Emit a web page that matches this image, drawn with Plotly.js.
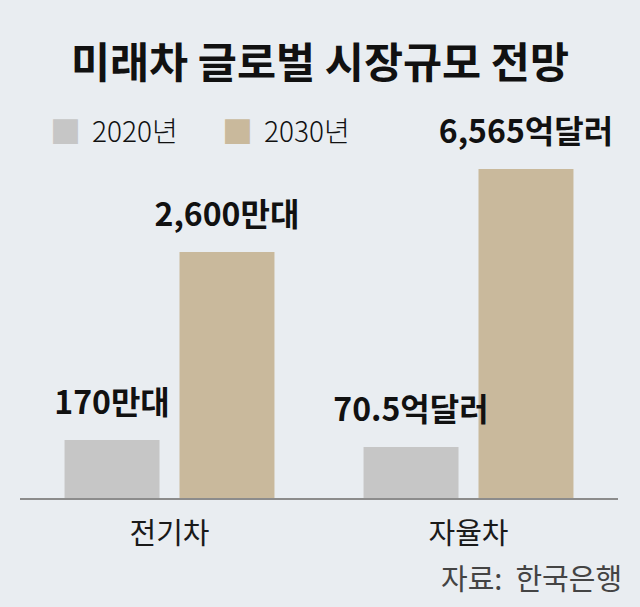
<!DOCTYPE html>
<html>
<head>
<meta charset="utf-8">
<script src="https://cdn.plot.ly/plotly-3.0.1.min.js"></script>
<style>
  html, body { margin: 0; padding: 0; background: #e9edf1; }
  #chart { width: 640px; height: 607px; }
</style>
</head>
<body>
<div id="chart"></div>
<script>
// ---- data ----
const titleText = "미래차 글로벌 시장규모 전망";
const sourceText = "자료:&nbsp; 한국은행";
const categories = ["전기차", "자율차"];
const seriesNames = ["2020년", "2030년"];
const units = ["만대", "억달러"];
const values2020 = [170, 70.5];
const values2030 = [2600, 6565];
// bar heights as drawn in the source graphic (illustrative, not to scale)
const barHeights2020 = [58, 51];
const barHeights2030 = [246, 329];

// ---- style ----
const colors = ["#c6c6c6", "#c9b99c"];
const bg = "#e9edf1";
const kr = "'Noto Sans CJK KR', 'Noto Sans', sans-serif";

function fmt(v, i) {
  return v.toLocaleString("en-US") + units[i];
}
const labels2020 = values2020.map(fmt);
const labels2030 = values2030.map(fmt);

const labelFont = { family: kr, size: 32, color: "#111", weight: 700 };

const series = [
  { name: seriesNames[0], h: barHeights2020, lab: labels2020, color: colors[0] },
  { name: seriesNames[1], h: barHeights2030, lab: labels2030, color: colors[1] }
];

const traces = [];
series.forEach((s, i) => {
  traces.push({
    type: "bar", name: s.name, x: categories, y: s.h, offsetgroup: String(i),
    marker: { color: s.color }, hoverinfo: "skip"
  });
});
series.forEach((s, i) => {
  traces.push({
    type: "scatter", mode: "markers+text", name: s.name + " label",
    x: categories, y: s.h, offsetgroup: String(i),
    marker: { size: 28, color: "rgba(0,0,0,0)" },
    text: s.lab, textposition: "top center", textfont: labelFont,
    cliponaxis: false, hoverinfo: "skip", showlegend: false
  });
});

const annotations = [];
const legendX = [0.047, 0.335];
seriesNames.forEach((n, i) => {
  annotations.push({
    xref: "paper", yref: "paper", x: legendX[i], y: 1.028,
    xanchor: "left", yanchor: "middle", showarrow: false,
    text: "■", font: { family: kr, size: 31, color: colors[i] }
  });
  annotations.push({
    xref: "paper", yref: "paper", x: legendX[i] + 0.07, y: 1.028,
    xanchor: "left", yanchor: "middle", showarrow: false,
    text: n, font: { family: kr, size: 28, color: "#111", weight: 300 }
  });
});
annotations.push({
  xref: "paper", yref: "paper", x: 1.0, y: -0.22, xshift: 6,
  xanchor: "right", yanchor: "middle", showarrow: false,
  text: sourceText, font: { family: kr, size: 29, color: "#444" }
});

const layout = {
  width: 640, height: 607,
  paper_bgcolor: bg, plot_bgcolor: bg,
  margin: { l: 20, r: 22, t: 140, b: 109 },
  showlegend: false,
  barmode: "group", bargap: 0.231, bargroupgap: 0.174,
  scattermode: "group", scattergap: 0.231,
  title: {
    text: titleText, xref: "container", yref: "container",
    x: 0.5, xanchor: "center", y: 1 - 63 / 607, yanchor: "middle",
    font: { family: kr, size: 42.5, color: "#111", weight: 700 }
  },
  xaxis: {
    type: "category", showline: true, linecolor: "#8c8c8c", linewidth: 1.5,
    ticks: "", showgrid: false, zeroline: false, ticklabelstandoff: 10,
    tickfont: { family: kr, size: 29, color: "#1a1a1a" }, fixedrange: true
  },
  yaxis: {
    range: [0, 358], visible: false, showgrid: false, zeroline: false, fixedrange: true
  },
  annotations: annotations
};

Plotly.newPlot("chart", traces, layout, { staticPlot: true, displayModeBar: false });
</script>
</body>
</html>
